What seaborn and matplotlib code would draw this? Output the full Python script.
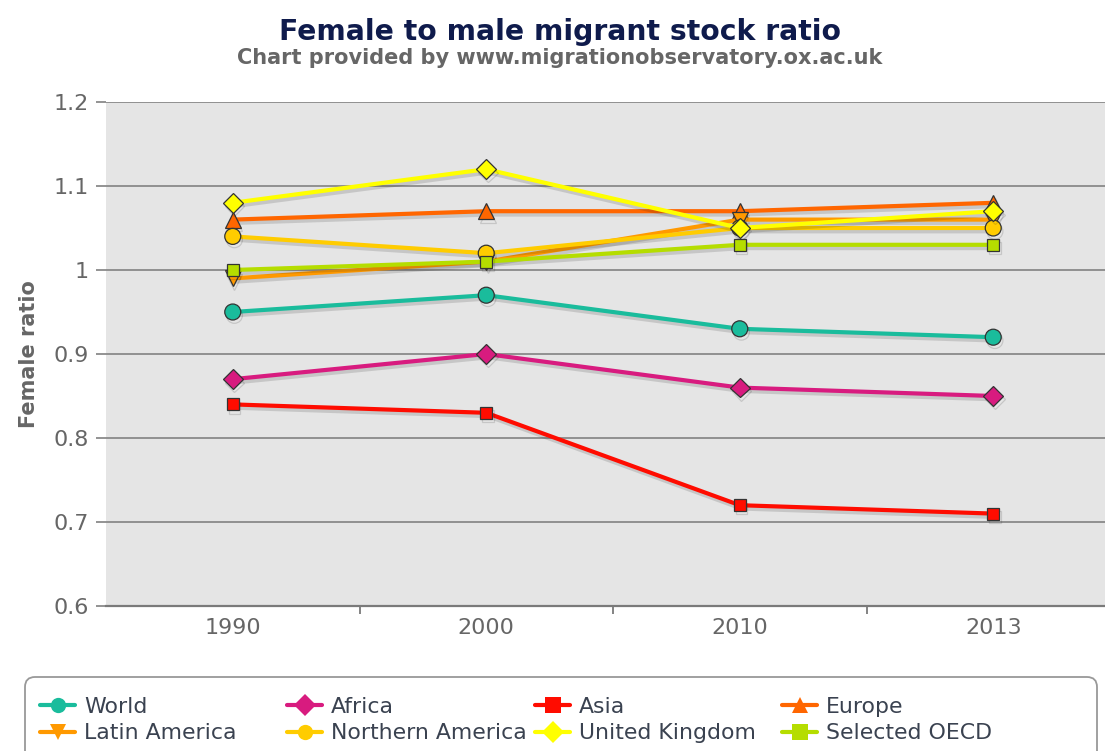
import matplotlib
matplotlib.use("Agg")
import matplotlib.pyplot as plt
import matplotlib.patheffects as pe
from matplotlib.patches import FancyBboxPatch
import seaborn as sns
import pandas as pd

# ---- data ----
years = ["1990", "2000", "2010", "2013"]
regions = ["World", "Africa", "Asia", "Europe", "Latin America",
           "Northern America", "United Kingdom", "Selected OECD"]
world = [0.95, 0.97, 0.93, 0.92]
africa = [0.87, 0.90, 0.86, 0.85]
asia = [0.84, 0.83, 0.72, 0.71]
europe = [1.06, 1.07, 1.07, 1.08]
latin_america = [0.99, 1.01, 1.06, 1.06]
northern_america = [1.04, 1.02, 1.05, 1.05]
united_kingdom = [1.08, 1.12, 1.05, 1.07]
selected_oecd = [1.00, 1.01, 1.03, 1.03]
y_ticks = [0.6, 0.7, 0.8, 0.9, 1.0, 1.1, 1.2]
y_tick_labels = ["0.6", "0.7", "0.8", "0.9", "1", "1.1", "1.2"]

series = [world, africa, asia, europe, latin_america,
          northern_america, united_kingdom, selected_oecd]
colors = ["#1ABC9C", "#D81B7F", "#FF0C00", "#FF6600",
          "#FF9900", "#FFCC00", "#FFFF00", "#B5DD00"]
markers = ["o", "D", "s", "^", "v", "o", "D", "s"]
msizes = [11.5, 10, 8.5, 11.5, 11.5, 11.5, 10, 8.5]

rows = []
for r, vals in zip(regions, series):
    for y, v in zip(years, vals):
        rows.append({"Year": y, "Ratio": v, "Region": r})
df = pd.DataFrame(rows)

sns.set_theme(style="white")
plt.rcParams["font.family"] = ["DejaVu Sans"]

W, H = 1105, 751
fig = plt.figure(figsize=(W / 100, H / 100), dpi=100)
ax = fig.add_axes([106 / W, 1 - 606 / H, 4 * 253.5 / W, (606 - 102) / H])
ax.set_facecolor("#E5E5E5")

sns.lineplot(
    data=df, x="Year", y="Ratio", hue="Region", style="Region",
    hue_order=regions, style_order=regions,
    palette=dict(zip(regions, colors)),
    markers=dict(zip(regions, markers)), dashes=False, sort=False,
    linewidth=3, markeredgecolor="#333333", markeredgewidth=0.9,
    ax=ax,
    path_effects=[pe.SimpleLineShadow(offset=(1.2, -2.4), shadow_color="k", alpha=0.15),
                  pe.Normal()],
)
for line, ms in zip(ax.get_lines(), msizes):
    line.set_markersize(ms)

leg = ax.get_legend()
handles = list(leg.legend_handles)
labels = [t.get_text() for t in leg.get_texts()]
leg.remove()
for h in handles:
    h.set_markeredgewidth(0)
    h.set_markersize(11)
    h.set_linewidth(3)
    h.set_path_effects([])

ax.set_xlim(-0.5, 3.5)
ax.set_ylim(0.6, 1.2)
ax.set_yticks(y_ticks)
ax.set_yticklabels(y_tick_labels)
ax.set_xlabel("")
ax.set_ylabel("Female ratio", fontsize=15, fontweight="bold", color="#666666", labelpad=10)
ax.yaxis.grid(True, color="#8a8a8a", linewidth=1.3)
ax.xaxis.grid(False)
for s in ["left", "top", "right"]:
    ax.spines[s].set_visible(False)
ax.spines["bottom"].set_color("#7a7a7a")
ax.spines["bottom"].set_linewidth(1.6)
ax.tick_params(axis="y", length=7.5, width=1.3, color="#8a8a8a", pad=5,
               labelsize=16, labelcolor="#666666", left=True)
ax.tick_params(axis="x", which="major", length=0, pad=9,
               labelsize=16, labelcolor="#666666")
ax.set_xticks([0.5, 1.5, 2.5], minor=True)
ax.tick_params(axis="x", which="minor", length=6, width=1.3, color="#7a7a7a",
               direction="out", bottom=True)

fig.text(560 / W, 1 - 40 / H, "Female to male migrant stock ratio",
         ha="center", va="baseline", fontsize=20.3, fontweight="bold", color="#0F1B4C")
fig.text(560 / W, 1 - 64 / H, "Chart provided by www.migrationobservatory.ox.ac.uk",
         ha="center", va="baseline", fontsize=15, fontweight="bold", color="#666666")

# legend frame
frame = FancyBboxPatch((0.25, -0.3), 10.72, 1.04,
                       boxstyle="round,pad=0,rounding_size=0.1",
                       transform=fig.dpi_scale_trans, fc="white", ec="#999999", lw=1.3)
fig.add_artist(frame)

col_x = [40, 287, 535, 782]
for i, x in enumerate(col_x):
    idx = [i, i + 4]
    fig.legend([handles[j] for j in idx], [labels[j] for j in idx],
               loc="center left", bbox_to_anchor=(x / W, 1 - 720 / H),
               frameon=False, borderpad=0, borderaxespad=0,
               handlelength=1.6, handletextpad=0.42, labelspacing=0.3,
               fontsize=15.8, labelcolor="#3a4250")

fig.savefig("out.png", dpi=100)
